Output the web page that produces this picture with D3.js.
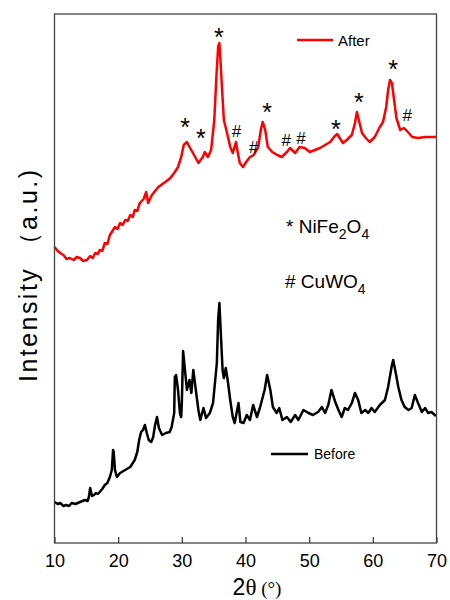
<!DOCTYPE html>
<html>
<head>
<meta charset="utf-8">
<script src="https://cdn.jsdelivr.net/npm/d3@7"></script>
<style>
  body { margin: 0; background: #fff; }
  svg { display: block; }
</style>
</head>
<body>
<script>
// 2theta (deg) and intensity (a.u.)
const afterTheta = [10.0, 10.5, 10.9, 11.4, 11.9, 12.4, 13.0, 13.5, 14.0, 14.5, 15.1, 15.6, 16.0, 16.4, 16.8, 17.1, 17.5, 17.9, 18.3, 18.7, 19.1, 19.5, 19.9, 20.3, 20.7, 21.1, 21.5, 21.9, 22.3, 22.6, 23.0, 23.4, 24.0, 24.4, 24.7, 25.3, 26.3, 27.4, 28.2, 28.9, 29.4, 29.9, 30.3, 30.8, 31.3, 32.1, 32.6, 33.3, 33.6, 34.1, 34.6, 35.1, 35.4, 35.7, 35.9, 36.0, 36.3, 36.6, 37.1, 37.6, 38.0, 38.5, 38.8, 39.1, 39.6, 40.1, 40.7, 41.3, 42.0, 42.4, 42.7, 43.1, 43.5, 44.2, 45.0, 45.7, 46.5, 47.0, 47.8, 48.5, 49.3, 50.1, 50.9, 51.7, 52.5, 53.3, 53.9, 54.4, 54.8, 55.3, 55.9, 56.7, 57.2, 57.5, 57.8, 58.3, 58.9, 59.5, 60.3, 61.1, 61.6, 62.1, 62.4, 62.7, 63.0, 63.4, 63.7, 64.3, 64.9, 65.5, 66.2, 67.1, 68.2, 69.0, 69.9];
const afterVals = [296, 292, 290, 288, 284, 285, 283, 286, 285, 282, 283, 287, 285, 290, 289, 293, 292, 300, 299, 308, 312, 316, 314, 320, 318, 323, 322, 328, 326, 333, 332, 340, 344, 351, 340, 348, 356, 361, 365, 371, 376, 386, 398, 401, 395, 386, 380, 386, 391, 386, 393, 423, 463, 496, 500, 490, 456, 423, 410, 396, 390, 401, 390, 380, 376, 381, 386, 388, 396, 413, 421, 413, 396, 391, 388, 386, 391, 395, 390, 396, 395, 391, 393, 395, 398, 401, 406, 409, 405, 400, 403, 408, 420, 431, 423, 410, 405, 401, 406, 416, 421, 436, 453, 463, 460, 440, 425, 413, 415, 411, 406, 405, 406, 406, 406];

const beforeTheta = [10.0, 10.5, 10.9, 11.4, 11.8, 12.3, 12.7, 13.3, 14.0, 14.4, 14.8, 15.2, 15.4, 15.6, 15.9, 16.2, 16.5, 16.8, 17.1, 17.5, 17.9, 18.3, 18.7, 19.0, 19.2, 19.3, 19.5, 19.8, 20.3, 21.1, 21.9, 22.6, 23.0, 23.3, 23.6, 23.9, 24.2, 24.5, 24.8, 25.2, 25.5, 25.8, 26.1, 26.4, 26.9, 27.5, 28.1, 28.4, 28.8, 28.9, 29.1, 29.4, 29.7, 29.9, 30.0, 30.2, 30.8, 31.2, 31.5, 31.8, 32.2, 32.6, 32.9, 33.4, 33.8, 34.4, 34.9, 35.5, 35.7, 35.9, 36.1, 36.4, 36.6, 36.9, 37.2, 37.6, 38.0, 38.3, 38.9, 39.2, 39.7, 40.2, 40.7, 41.2, 41.8, 42.3, 43.0, 43.4, 43.9, 44.3, 44.9, 45.3, 45.8, 46.5, 47.1, 47.8, 48.3, 49.1, 49.9, 50.6, 51.4, 52.0, 52.5, 53.0, 53.5, 54.1, 54.6, 55.1, 55.6, 56.1, 56.7, 57.2, 57.7, 58.2, 58.8, 59.3, 59.8, 60.3, 61.1, 61.9, 62.4, 63.0, 63.2, 63.6, 64.0, 64.5, 65.0, 65.6, 66.1, 66.6, 67.1, 67.7, 68.2, 68.7, 69.2, 69.9];
const beforeVals = [41, 39, 40, 37, 38, 37, 40, 39, 41, 42, 43, 42, 46, 55, 47, 48, 50, 49, 51, 54, 58, 60, 66, 73, 93, 91, 73, 66, 70, 73, 76, 83, 91, 103, 111, 113, 118, 110, 103, 101, 106, 118, 126, 115, 108, 110, 111, 116, 130, 166, 168, 153, 130, 126, 140, 192, 153, 163, 150, 173, 153, 133, 123, 135, 125, 130, 140, 180, 223, 240, 213, 173, 165, 175, 163, 143, 126, 120, 140, 121, 120, 128, 123, 138, 126, 136, 153, 168, 153, 136, 130, 135, 123, 126, 121, 128, 123, 133, 130, 128, 131, 136, 130, 138, 153, 141, 133, 126, 135, 133, 140, 150, 143, 130, 133, 130, 135, 131, 138, 143, 156, 178, 183, 170, 156, 143, 136, 133, 135, 148, 140, 131, 135, 130, 131, 127];

// phase markers above the "After" peaks
const markTheta = [30.5, 33.0, 35.8, 38.6, 41.3, 43.4, 46.4, 48.7, 54.2, 57.8, 63.2, 65.4];
const markSymbol = ["*", "*", "*", "#", "#", "*", "#", "#", "*", "*", "*", "#"];
const markLevel = [421, 410, 511, 412, 396, 436, 403, 405, 419, 446, 479, 428];

const xTicks = [10, 20, 30, 40, 50, 60, 70];

const W = 450;
const H = 600;
const margin = { top: 14, right: 13.5, bottom: 57, left: 54.5 };
const sans = "Arial, 'Liberation Sans', sans-serif";
const serif = "'Times New Roman', 'Liberation Serif', serif";

function drawChart() {
  const svg = d3
    .select("body")
    .append("svg")
    .attr("width", W)
    .attr("height", H);

  const x = d3
    .scaleLinear()
    .domain([10, 70])
    .range([margin.left, W - margin.right]);

  const y = d3
    .scaleLinear()
    .domain([0, 529])
    .range([H - margin.bottom, margin.top]);

  const line = d3
    .line()
    .x((d) => x(d[0]))
    .y((d) => y(d[1]));

  const after = d3.zip(afterTheta, afterVals);
  const before = d3.zip(beforeTheta, beforeVals);

  svg
    .append("path")
    .datum(before)
    .attr("fill", "none")
    .attr("stroke", "#000")
    .attr("stroke-width", 2.5)
    .attr("stroke-linejoin", "round")
    .attr("d", line);

  svg
    .append("path")
    .datum(after)
    .attr("fill", "none")
    .attr("stroke", "#ff0000")
    .attr("stroke-width", 2.5)
    .attr("stroke-linejoin", "round")
    .attr("d", line);

  // markers
  svg
    .append("g")
    .selectAll("text")
    .data(d3.zip(markTheta, markSymbol, markLevel))
    .join("text")
    .attr("x", (d) => x(d[0]))
    .attr("y", (d) => y(d[2]) + (d[1] === "*" ? 14 : 6))
    .attr("text-anchor", "middle")
    .attr("font-family", sans)
    .attr("font-size", (d) => (d[1] === "*" ? "25px" : "17px"))
    .attr("fill", "#000")
    .text((d) => d[1]);

  // frame
  svg
    .append("rect")
    .attr("x", margin.left)
    .attr("y", margin.top)
    .attr("width", W - margin.left - margin.right)
    .attr("height", H - margin.top - margin.bottom)
    .attr("fill", "none")
    .attr("stroke", "#444")
    .attr("stroke-width", 1.3);

  // bottom axis, ticks inside
  const xAxis = svg
    .append("g")
    .attr("transform", `translate(0,${H - margin.bottom})`)
    .call(d3.axisBottom(x).tickValues(xTicks).tickSize(-6).tickPadding(11).tickFormat(d3.format("d")));
  xAxis.select(".domain").remove();
  xAxis.selectAll("line").attr("stroke", "#444").attr("stroke-width", 1.3);
  xAxis
    .selectAll("text")
    .attr("font-family", sans)
    .attr("font-size", "18px")
    .attr("fill", "#000");

  // x title
  const xt = svg
    .append("text")
    .attr("x", 257)
    .attr("y", 595)
    .attr("text-anchor", "middle")
    .attr("fill", "#000");
  xt.append("tspan").attr("font-family", sans).attr("font-size", "23px").text("2");
  xt.append("tspan").attr("font-family", serif).attr("font-size", "23px").text("θ");
  xt.append("tspan").attr("font-family", serif).attr("font-size", "19px").text(" (°)");

  // y title
  svg
    .append("text")
    .attr("transform", "translate(37,276) rotate(-90)")
    .attr("text-anchor", "middle")
    .attr("font-family", sans)
    .attr("font-size", "25px")
    .attr("fill", "#000")
    .attr("textLength", 212)
    .attr("lengthAdjust", "spacing")
    .text("Intensity （a.u.)");

  // legends
  svg
    .append("line")
    .attr("x1", 297).attr("x2", 333).attr("y1", 40).attr("y2", 40)
    .attr("stroke", "#ff0000").attr("stroke-width", 2.5);
  svg
    .append("text")
    .attr("x", 338).attr("y", 45.5)
    .attr("font-family", sans).attr("font-size", "15px")
    .text("After");

  svg
    .append("line")
    .attr("x1", 271).attr("x2", 308).attr("y1", 454).attr("y2", 454)
    .attr("stroke", "#000").attr("stroke-width", 2.5);
  svg
    .append("text")
    .attr("x", 314).attr("y", 459)
    .attr("font-family", sans).attr("font-size", "14px")
    .text("Before");

  // phase key
  const k1 = svg.append("text").attr("x", 286).attr("y", 233).attr("font-family", sans).attr("font-size", "19px");
  k1.append("tspan").text("* NiFe");
  k1.append("tspan").attr("font-size", "14px").attr("dy", 6).text("2");
  k1.append("tspan").attr("dy", -6).text("O");
  k1.append("tspan").attr("font-size", "14px").attr("dy", 6).text("4");

  const k2 = svg.append("text").attr("x", 285).attr("y", 288).attr("font-family", sans).attr("font-size", "19px");
  k2.append("tspan").text("# CuWO");
  k2.append("tspan").attr("font-size", "14px").attr("dy", 6).text("4");
}

document.addEventListener("DOMContentLoaded", drawChart);
</script>
</body>
</html>
